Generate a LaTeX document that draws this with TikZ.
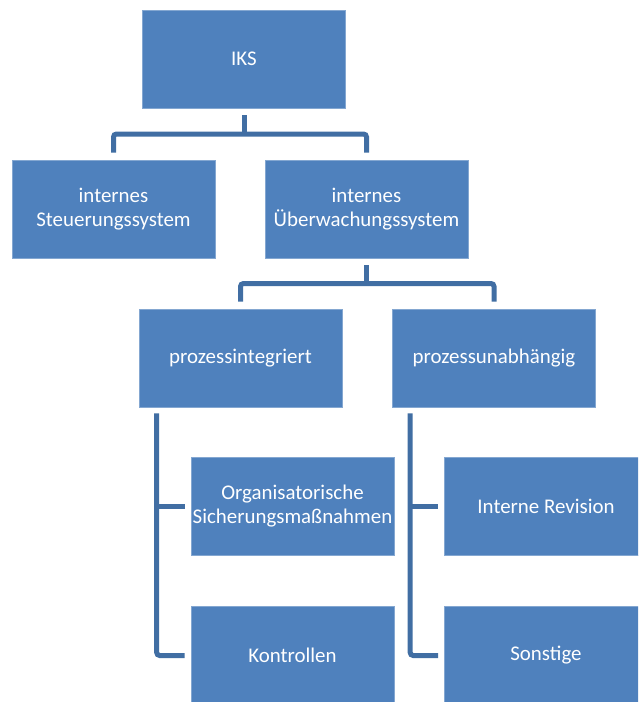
\documentclass[tikz,border=0pt]{standalone}
\usepackage{fontspec}
\setmainfont{Carlito}
\usepackage{tikz}
\usetikzlibrary{calc, positioning}
\definecolor{boxblue}{RGB}{79, 129, 189}
\definecolor{linkblue}{RGB}{65, 110, 163}

\tikzset{
    orgbox/.style={rectangle, fill=boxblue, draw=boxblue!70!white, line width=0.6pt,
        minimum width=203pt, minimum height=98pt, inner sep=0pt, align=center,
        text=white, font=\fontsize{20.9}{24}\selectfont},
    link/.style={draw=linkblue, line width=5pt, rounded corners=3pt}
}

\begin{document}
\begin{tikzpicture}[x=1pt, y=1pt]
        \useasboundingbox (0,0) rectangle (638,-702);
        \begin{scope}
        \clip (0,0) rectangle (638,-702);

        % boxes
        \node[orgbox] (iks) at (244,-59) {IKS};
        \node[orgbox] (iss) at (113.5,-209) {internes\\Steuerungssystem};
        \node[orgbox] (ius) at (366.5,-209) {internes\\Überwachungssystem};
        \node[orgbox] (pint) at (240.5,-358) {prozessintegriert};
        \node[orgbox] (pabh) at (494,-358) {prozessunabhängig};
        \node[orgbox] (osm) at (292.5,-506.5) {Organisatorische\\Sicherungsmaßnahmen};
        \node[orgbox] (kon) at (292.5,-655.5) {Kontrollen};
        \node[orgbox] (rev) at (546,-506.5) {Interne Revision};
        \node[orgbox] (son) at (546,-655.5) {Sonstige};

        % tree links
        \coordinate (bar1) at ($(iks.south)!0.5!(iss.north)$);
        \draw[link] ([yshift=-7pt]iks.south) -- (iks.south |- bar1);
        \draw[link] ([yshift=7pt]iss.north) |- (bar1 -| ius.north) -- ([yshift=7pt]ius.north);

        \coordinate (bar2) at ($(ius.south)!0.5!(pint.north)$);
        \draw[link] ([yshift=-7pt]ius.south) -- (ius.south |- bar2);
        \draw[link] ([yshift=7pt]pint.north) |- (bar2 -| pabh.north) -- ([yshift=7pt]pabh.north);

        % side links
        \draw[link] ([xshift=18pt, yshift=-6pt]pint.south west) |- ([xshift=-6pt]kon.west);
        \draw[link] ([xshift=18pt]pint.south west |- osm.west) -- ([xshift=-6pt]osm.west);
        \draw[link] ([xshift=18pt, yshift=-6pt]pabh.south west) |- ([xshift=-6pt]son.west);
        \draw[link] ([xshift=18pt]pabh.south west |- rev.west) -- ([xshift=-6pt]rev.west);
        \end{scope}
    \end{tikzpicture}
\end{document}
